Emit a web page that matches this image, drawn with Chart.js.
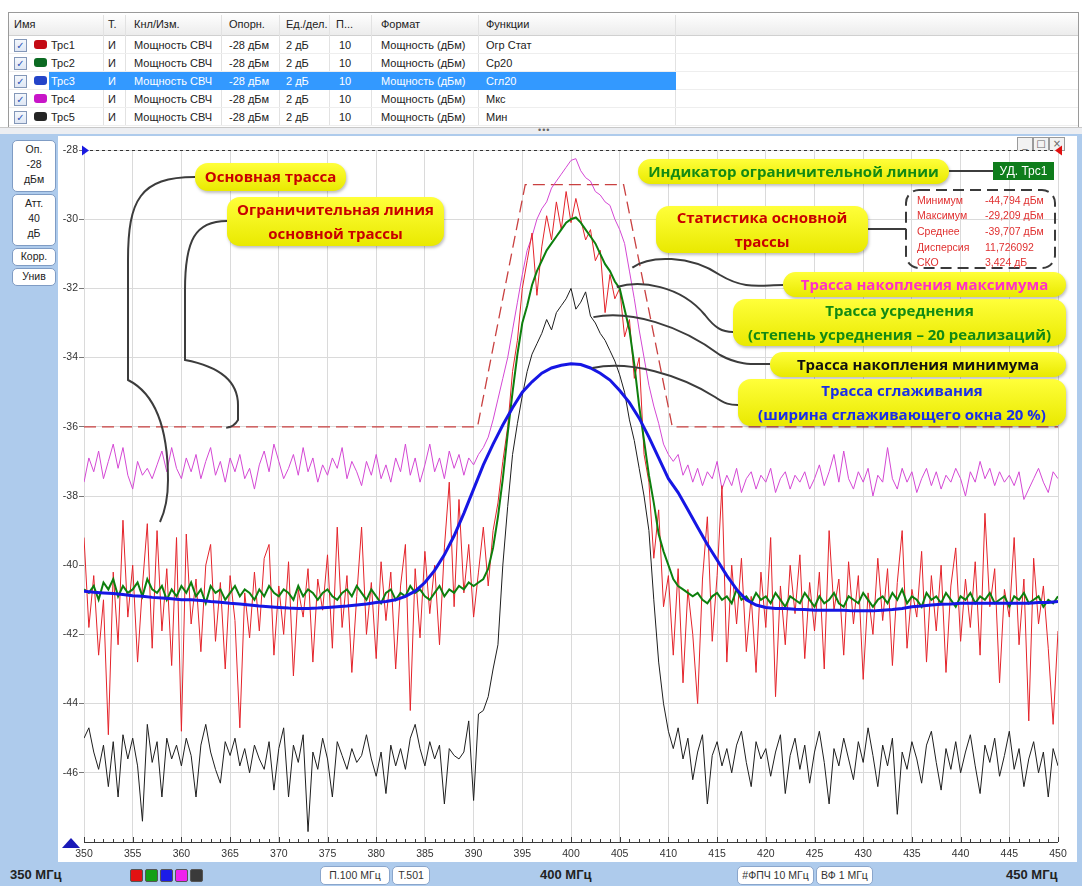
<!DOCTYPE html>
<html>
<head>
<meta charset="utf-8">
<script src="https://cdn.jsdelivr.net/npm/chart.js@4.4.1/dist/chart.umd.min.js"></script>
<style>
  body { margin: 0; width: 1082px; height: 886px; position: relative; overflow: hidden; background: #fff;
         font-family: "Liberation Sans", Arial, sans-serif; font-size: 11px; color: #222; }
  .abs { position: absolute; }
  #table { left: 8px; top: 12px; width: 1069px; height: 114px; border: 1px solid #9a9a9a; background: #fff; }
  .hdr { left: 0; top: 0; width: 1069px; height: 22px; background: linear-gradient(#ffffff, #ececec); border-bottom: 1px solid #d0d0d0; }
  .cell { position: absolute; white-space: nowrap; line-height: 18px; }
  .sep { position: absolute; width: 1px; background: #e2e2e2; }
  .chk { position: absolute; width: 11px; height: 11px; border: 1px solid #8397b8; background: linear-gradient(#f4f7fc, #dfe7f4);
         font: bold 10px "DejaVu Sans"; color: #2a55b8; text-align: center; line-height: 11px; }
  .sw { position: absolute; width: 13px; height: 9px; border-radius: 3px; }
  #splitter { left: 0; top: 127px; width: 1082px; height: 7px; background: #eceef2; border-top: 1px solid #c8c8c8; }
  #panel { left: 0; top: 134px; width: 1082px; height: 752px; background: #aecbec; }
  #plotbg { left: 58px; top: 136px; width: 1019px; height: 726px; background: #fff; }
  .btn { position: absolute; background: #fff; border: 1px solid #7f9cc4; border-radius: 5px; text-align: center;
         font-size: 10.5px; line-height: 15px; color: #222; }
  .foot { position: absolute; top: 866px; font-size: 13px; font-weight: bold; color: #222; line-height: 18px; }
  .fbtn { position: absolute; top: 866px; height: 17px; background: #fff; border: 1px solid #8aa6cc; border-radius: 5px;
          font-size: 10.5px; line-height: 17px; text-align: center; color: #333; }
  .sq { position: absolute; top: 869px; width: 11px; height: 11px; border-radius: 2px; border: 1px solid #555; }
  .wbtn { position: absolute; top: 137px; width: 14px; height: 12px; border: 1px solid #9a9a9a; background: #f2f2f2;
          font: 10px "DejaVu Sans"; color: #666; text-align: center; line-height: 12px; }
  canvas { position: absolute; left: 0; top: 0; z-index: 5; }
</style>
</head>
<body>
<div id="table" class="abs"><div class="hdr abs"></div></div>
<div id="splitter" class="abs"><div class="abs" style="left:538px;top:-3px;font-size:9px;color:#666;letter-spacing:1px">•••</div></div>
<div id="panel" class="abs"></div>
<div id="plotbg" class="abs"></div>

<div class="btn" style="left:12px;top:140px;width:42px;height:49px;padding-top:1px">Оп.<br>-28<br>дБм</div>
<div class="btn" style="left:12px;top:194px;width:42px;height:49px;padding-top:1px">Атт.<br>40<br>дБ</div>
<div class="btn" style="left:12px;top:248px;width:42px;height:16px">Корр.</div>
<div class="btn" style="left:12px;top:268px;width:42px;height:16px">Унив</div>

<div class="wbtn" style="left:1017px">_</div>
<div class="wbtn" style="left:1033px">□</div>
<div class="wbtn" style="left:1049px">×</div>

<div class="foot" style="left:10px">350 МГц</div>
<div class="sq" style="left:130px;background:#e31212"></div>
<div class="sq" style="left:145px;background:#14a014"></div>
<div class="sq" style="left:160px;background:#1c1ce8"></div>
<div class="sq" style="left:175px;background:#ee22ee"></div>
<div class="sq" style="left:190px;background:#3a3a3a"></div>
<div class="fbtn" style="left:320px;width:68px">П.100 МГц</div>
<div class="fbtn" style="left:392px;width:36px">Т.501</div>
<div class="foot" style="left:540px">400 МГц</div>
<div class="fbtn" style="left:737px;width:75px">#ФПЧ 10 МГц</div>
<div class="fbtn" style="left:816px;width:55px">ВФ 1 МГц</div>
<div class="foot" style="left:1006px">450 МГц</div>

<canvas id="chart" width="1082" height="886"></canvas>

<script>
// ---- данные трасс (дБм), шаг сетки частот 0,5 МГц от 350 МГц ----
const FREQ_START = 350;
const FREQ_STEP = 0.5;

// Трс1 – основная трасса (Огр Стат)
const TRC1_MAIN = [
  -39.2,-41.8,-40.3,-42.6,-41.0,-44.9,-40.2,-42.3,-38.7,-41.5,
  -40.0,-42.8,-40.6,-38.8,-42.4,-39.0,-41.9,-40.1,-42.9,-39.2,
  -44.8,-39.1,-41.7,-40.4,-42.5,-40.0,-39.4,-42.2,-40.5,-43.0,
  -40.3,-41.6,-44.7,-40.8,-42.1,-40.2,-41.9,-39.8,-39.4,-42.6,
  -40.6,-42.0,-39.9,-43.2,-40.7,-41.5,-40.1,-42.8,-40.4,-41.3,
  -39.7,-42.4,-38.9,-41.8,-40.3,-43.1,-40.9,-38.9,-42.0,-40.5,
  -42.7,-39.9,-41.6,-40.2,-43.0,-40.6,-39.4,-44.2,-40.1,-42.1,
  -39.6,-41.4,-40.0,-42.3,-39.5,-37.6,-41.2,-38.1,-40.8,-39.4,
  -41.5,-40.2,-38.9,-40.6,-39.0,-38.2,-37.0,-36.0,-34.4,-33.5,
  -32.0,-31.2,-30.4,-32.2,-30.8,-29.9,-30.6,-29.5,-30.3,-29.2,
  -30.1,-29.4,-30.0,-30.6,-30.3,-31.2,-30.9,-32.7,-31.6,-32.3,
  -32.0,-33.4,-32.9,-34.6,-34.0,-36.8,-37.6,-39.8,-38.4,-41.2,
  -40.3,-42.6,-40.1,-43.4,-40.7,-42.0,-44.0,-40.4,-38.6,-42.2,
  -40.3,-37.7,-42.8,-40.0,-41.7,-39.8,-42.5,-40.9,-43.1,-40.2,
  -41.8,-39.2,-43.8,-40.6,-42.3,-40.0,-41.4,-39.7,-42.7,-40.5,
  -41.9,-40.2,-43.0,-39.0,-41.3,-40.4,-42.6,-39.9,-41.7,-40.3,
  -43.3,-40.8,-42.0,-39.8,-41.6,-40.1,-42.9,-40.5,-39.0,-42.4,
  -40.7,-41.5,-39.6,-42.8,-40.3,-41.9,-40.0,-43.1,-40.6,-39.5,
  -42.2,-40.4,-41.8,-39.9,-42.6,-38.5,-41.2,-40.1,-43.4,-40.7,
  -41.5,-39.2,-42.3,-40.4,-44.5,-39.8,-41.7,-40.6,-42.4,-44.6,
  -41.9
];

// Трс2 – усреднение по 20 реализациям (Ср20)
const TRC2_AVG = [
  -40.7,-40.8,-40.6,-41.0,-40.5,-40.7,-40.4,-40.9,-40.6,-40.8,
  -40.7,-40.5,-40.9,-40.4,-40.7,-40.8,-40.6,-41.0,-40.7,-40.9,
  -40.6,-40.8,-40.5,-40.9,-40.7,-41.1,-40.6,-40.8,-40.7,-41.0,
  -40.8,-40.6,-40.9,-40.7,-40.8,-41.0,-40.7,-40.9,-40.6,-40.8,
  -40.9,-40.7,-40.8,-41.0,-40.6,-40.9,-40.7,-40.8,-41.0,-40.8,
  -40.7,-40.9,-41.0,-40.8,-40.7,-40.9,-40.6,-40.8,-41.0,-40.7,
  -40.9,-41.1,-40.8,-40.7,-41.0,-40.8,-40.9,-40.6,-40.8,-40.7,
  -40.9,-41.0,-40.8,-40.6,-40.9,-40.7,-40.8,-40.6,-40.7,-40.5,
  -40.6,-40.5,-40.4,-40.1,-39.5,-38.6,-37.5,-36.2,-35.0,-33.9,
  -33.0,-32.5,-31.9,-31.5,-31.2,-30.9,-30.7,-30.5,-30.3,-30.1,
  -30.0,-29.95,-30.1,-30.3,-30.5,-30.7,-31.0,-31.3,-31.5,-31.8,
  -32.0,-32.6,-33.2,-34.2,-35.4,-36.4,-37.4,-38.2,-39.1,-39.6,
  -40.0,-40.4,-40.6,-40.7,-40.8,-40.9,-40.8,-41.0,-41.1,-40.9,
  -40.8,-41.0,-40.9,-41.1,-40.7,-41.0,-40.9,-41.1,-40.8,-41.0,
  -40.9,-41.1,-40.8,-41.0,-41.2,-40.9,-41.0,-41.1,-40.8,-41.0,
  -41.2,-40.9,-41.1,-41.0,-40.8,-41.1,-41.2,-40.9,-41.0,-41.1,
  -40.8,-41.0,-41.2,-41.0,-40.9,-41.1,-40.8,-41.0,-40.7,-41.1,
  -40.9,-41.0,-41.2,-40.8,-41.0,-40.9,-41.1,-40.8,-41.0,-41.2,
  -40.9,-41.0,-40.8,-41.1,-40.9,-41.0,-40.8,-41.1,-41.0,-40.9,
  -41.2,-40.9,-41.0,-40.8,-41.1,-41.0,-40.9,-41.2,-41.0,-41.1,
  -40.9
];

// Трс3 – сглаживание, окно 20 % (шаг 1 МГц)
const TRC3_STEP = 1;
const TRC3_SMOOTH = [
  -40.75,-40.78,-40.8,-40.82,-40.85,-40.88,-40.9,-40.93,-40.95,-40.97,
  -41.0,-41.0,-41.02,-41.05,-41.07,-41.1,-41.12,-41.15,-41.18,-41.2,
  -41.22,-41.24,-41.25,-41.25,-41.24,-41.22,-41.2,-41.18,-41.15,-41.12,
  -41.08,-41.05,-41.0,-40.9,-40.75,-40.5,-40.15,-39.7,-39.15,-38.5,
  -37.8,-37.1,-36.5,-35.95,-35.45,-35.0,-34.7,-34.45,-34.3,-34.22,
  -34.18,-34.2,-34.3,-34.45,-34.65,-34.95,-35.3,-35.75,-36.3,-36.9,
  -37.5,-37.9,-38.4,-38.9,-39.4,-39.85,-40.3,-40.7,-41.0,-41.15,
  -41.22,-41.25,-41.25,-41.27,-41.28,-41.3,-41.3,-41.3,-41.3,-41.32,
  -41.32,-41.32,-41.3,-41.28,-41.25,-41.2,-41.18,-41.15,-41.13,-41.12,
  -41.1,-41.1,-41.1,-41.1,-41.1,-41.1,-41.1,-41.1,-41.08,-41.08,
  -41.05
];

// Трс4 – накопление максимума (Мкс)
const TRC4_MAX = [
  -37.6,-36.9,-37.3,-36.7,-37.5,-37.0,-36.5,-37.2,-36.6,-37.4,
  -37.8,-37.0,-37.4,-37.2,-37.5,-37.1,-36.7,-37.3,-36.6,-37.2,
  -37.5,-36.9,-37.3,-36.8,-37.5,-37.0,-36.6,-37.4,-37.0,-37.6,
  -36.9,-37.3,-36.8,-37.5,-37.2,-37.8,-37.1,-36.7,-37.3,-36.5,
  -37.0,-37.5,-37.2,-36.8,-37.4,-36.6,-37.3,-36.9,-37.6,-37.1,
  -37.4,-36.9,-37.2,-36.6,-37.5,-37.0,-37.3,-37.7,-37.0,-37.4,
  -36.8,-37.5,-37.1,-37.6,-36.9,-37.3,-36.5,-37.4,-36.9,-37.6,
  -37.1,-36.5,-37.3,-36.9,-37.5,-36.7,-37.2,-36.8,-37.4,-36.9,
  -37.1,-36.8,-36.6,-36.3,-35.8,-35.2,-34.6,-34.0,-33.2,-32.4,
  -31.6,-30.9,-30.5,-30.0,-29.7,-29.5,-29.1,-28.9,-28.7,-28.5,
  -28.3,-28.25,-28.6,-28.8,-28.9,-29.2,-29.3,-29.5,-29.6,-30.0,
  -30.3,-30.7,-31.5,-32.3,-33.2,-34.0,-34.8,-35.4,-35.9,-36.5,
  -36.8,-37.0,-36.8,-37.4,-37.1,-37.6,-37.2,-37.7,-37.3,-37.5,
  -37.0,-37.8,-37.4,-37.7,-37.2,-37.9,-37.5,-37.3,-37.8,-37.4,
  -37.6,-37.2,-37.9,-37.5,-37.3,-37.8,-37.4,-37.6,-37.3,-37.8,
  -37.5,-37.1,-37.7,-37.3,-36.8,-37.6,-36.7,-37.5,-37.8,-37.3,
  -37.6,-37.2,-38.0,-37.4,-37.6,-36.6,-37.5,-37.8,-37.2,-37.6,
  -37.3,-37.9,-37.5,-37.2,-37.7,-37.3,-37.8,-37.4,-37.6,-37.2,
  -37.5,-38.0,-37.3,-37.6,-37.0,-37.5,-37.2,-37.7,-37.3,-37.6,
  -37.4,-37.7,-37.3,-38.1,-37.8,-37.5,-37.2,-37.6,-37.9,-37.3,
  -37.5
];

// Трс5 – накопление минимума (Мин)
const TRC5_MIN = [
  -45.0,-44.7,-45.4,-45.9,-45.2,-46.4,-45.1,-46.7,-44.9,-45.6,
  -45.0,-45.8,-47.4,-44.6,-45.7,-45.1,-46.7,-45.0,-45.6,-45.2,
  -45.8,-45.0,-45.5,-46.7,-45.2,-44.6,-45.4,-45.9,-46.3,-45.1,
  -45.5,-45.0,-45.8,-45.3,-46.0,-45.2,-45.6,-45.9,-45.1,-46.5,
  -45.3,-44.7,-46.7,-45.2,-45.7,-44.9,-47.7,-45.4,-45.9,-45.0,
  -45.6,-46.7,-45.1,-45.5,-45.9,-45.3,-45.7,-45.5,-44.9,-45.6,
  -46.1,-45.4,-46.6,-45.2,-45.8,-45.3,-45.9,-45.0,-44.6,-45.3,
  -45.8,-45.1,-45.6,-45.2,-46.9,-45.3,-45.5,-45.6,-45.4,-44.5,
  -46.8,-44.3,-44.2,-43.8,-43.0,-42.3,-40.0,-38.3,-36.8,-35.9,
  -35.1,-34.4,-33.9,-33.6,-33.3,-32.9,-33.2,-32.7,-32.5,-32.3,
  -32.0,-32.6,-32.4,-32.1,-32.8,-33.0,-33.3,-33.5,-33.8,-34.1,
  -34.5,-35.0,-35.8,-36.4,-37.2,-38.0,-39.0,-41.0,-42.8,-44.0,
  -44.8,-45.3,-44.7,-45.6,-45.0,-46.2,-45.4,-44.9,-46.9,-45.5,
  -45.1,-45.8,-45.3,-46.0,-45.2,-44.8,-45.7,-46.4,-45.1,-45.6,
  -45.3,-46.1,-45.4,-44.9,-46.6,-45.5,-45.0,-45.9,-45.2,-46.3,
  -45.4,-44.8,-45.7,-46.9,-45.3,-45.8,-45.0,-45.6,-46.2,-45.1,
  -45.7,-44.7,-45.5,-46.4,-45.2,-45.8,-45.0,-47.2,-45.4,-45.9,
  -45.1,-45.6,-46.3,-45.2,-44.8,-45.7,-46.5,-45.3,-45.9,-45.1,
  -46.0,-45.4,-44.9,-45.8,-46.6,-45.2,-45.7,-45.0,-46.1,-45.5,
  -44.8,-45.9,-45.3,-46.4,-45.6,-45.1,-46.0,-45.4,-46.7,-45.3,
  -45.8
];

// ограничительная линия основной трассы
const LIMIT_FREQ = [350, 390.4, 395.3, 405.4, 410.4, 450];
const LIMIT_LEVEL = [-36, -36, -29, -29, -36, -36];

// опорный уровень и шкалы
const REF_LEVEL = -28;
const Y_MIN = -48, Y_STEP = 2;
const X_MIN = 350, X_MAX = 450, X_STEP = 5;

// статистика основной трассы
const STAT_NAMES = ['Минимум', 'Максимум', 'Среднее', 'Дисперсия', 'СКО'];
const STAT_VALUES = ['-44,794 дБм', '-29,209 дБм', '-39,707 дБм', '11,726092', '3,424 дБ'];

// таблица трасс
const TABLE_HEAD = ['Имя', 'Т.', 'Кнл/Изм.', 'Опорн.', 'Ед./дел.', 'П...', 'Формат', 'Функции'];
const TRACE_NAMES = ['Трс1', 'Трс2', 'Трс3', 'Трс4', 'Трс5'];
const TRACE_FUNCS = ['Огр Стат', 'Ср20', 'Сгл20', 'Мкс', 'Мин'];
const TRACE_SWATCH = ['#c40a14', '#0b6a22', '#2444c8', '#c815c8', '#252525'];

// --- таблица ---
const tbl = document.getElementById('table');
const colX = [5, 99, 125, 220, 277, 327, 372, 477];
const sepX = [94, 116, 212, 270, 320, 362, 469, 666];
TABLE_HEAD.forEach((h, i) => {
  const d = document.createElement('div');
  d.className = 'cell'; d.style.left = colX[i] + 'px'; d.style.top = '2px'; d.textContent = h;
  tbl.appendChild(d);
});
sepX.forEach(x => {
  const s = document.createElement('div');
  s.className = 'sep'; s.style.left = x + 'px'; s.style.top = '2px'; s.style.height = '111px';
  tbl.appendChild(s);
});
TRACE_NAMES.forEach((name, r) => {
  const top = 23 + r * 18;
  const line = document.createElement('div');
  line.className = 'abs'; line.style.cssText = `left:0;top:${top + 17}px;width:1069px;height:1px;background:#eeeeee`;
  tbl.appendChild(line);
  if (r === 2) {
    const hl = document.createElement('div');
    hl.className = 'abs'; hl.style.cssText = `left:40px;top:${top}px;width:627px;height:18px;background:#3399ff`;
    tbl.appendChild(hl);
  }
  const chk = document.createElement('div');
  chk.className = 'chk'; chk.style.left = '5px'; chk.style.top = (top + 3) + 'px'; chk.textContent = '✓';
  tbl.appendChild(chk);
  const sw = document.createElement('div');
  sw.className = 'sw'; sw.style.left = '25px'; sw.style.top = (top + 4) + 'px'; sw.style.background = TRACE_SWATCH[r];
  tbl.appendChild(sw);
  const vals = [name, 'И', 'Мощность СВЧ', '-28 дБм', '2 дБ', '10', 'Мощность (дБм)', TRACE_FUNCS[r]];
  vals.forEach((v, i) => {
    const d = document.createElement('div');
    d.className = 'cell';
    d.style.left = (i === 0 ? 42 : colX[i] + (i === 5 ? 3 : 0)) + 'px';
    d.style.top = top + 'px';
    d.style.color = r === 2 ? '#fff' : '#222';
    d.textContent = v;
    tbl.appendChild(d);
  });
});

// --- график ---
function toPoints(values, start, step) {
  return values.map((v, i) => ({ x: start + i * step, y: v }));
}

const CALLOUTS = [
  { box: [195, 163, 346, 191], color: '#c80000', lines: ['Основная трасса'] },
  { box: [227, 197, 444, 246], color: '#c80000', lines: ['Ограничительная линия', 'основной трассы'] },
  { box: [638, 159, 949, 184], color: '#138a13', lines: ['Индикатор ограничительной линии'] },
  { box: [656, 206, 868, 253], color: '#c80000', lines: ['Статистика основной', 'трассы'] },
  { box: [783, 272, 1066, 297], color: '#ff2fc8', lines: ['Трасса накопления максимума'] },
  { box: [733, 299, 1066, 346], color: '#138a13', lines: ['Трасса усреднения', '(степень усреднения – 20 реализаций)'] },
  { box: [770, 352, 1066, 377], color: '#111111', lines: ['Трасса накопления минимума'] },
  { box: [738, 379, 1066, 426], color: '#1a2ee8', lines: ['Трасса сглаживания', '(ширина сглаживающего окна 20 %)'] }
];

// выноски: начало на трассе (МГц, дБм), далее кривые в пикселях
const LEADERS = [
  { at: [357.8, -38.75], path: [[168, 505, 168, 480], [168, 400, 128, 380], [128, 260], [128, 200, 140, 177, 195, 177]] },
  { at: [364.6, -36.03], path: [[234, 427, 238, 420], [238, 405], [238, 370, 185, 360], [185, 290], [185, 240, 195, 221, 227, 221]] },
  { at: [406.3, -31.4], path: [[650, 255, 690, 255, 720, 275], [745, 290, 760, 285, 783, 285]] },
  { at: [404.7, -31.96], path: [[640, 280, 680, 285, 705, 315], [715, 328, 722, 332, 733, 332]] },
  { at: [402.3, -32.83], path: [[630, 310, 680, 325, 720, 355], [740, 366, 755, 364, 770, 364]] },
  { at: [402.2, -34.3], path: [[630, 360, 680, 375, 715, 397], [725, 404, 730, 405, 738, 405]] }
];

function roundRectPath(ctx, x1, y1, x2, y2, r) {
  ctx.beginPath();
  ctx.moveTo(x1 + r, y1);
  ctx.lineTo(x2 - r, y1); ctx.arcTo(x2, y1, x2, y1 + r, r);
  ctx.lineTo(x2, y2 - r); ctx.arcTo(x2, y2, x2 - r, y2, r);
  ctx.lineTo(x1 + r, y2); ctx.arcTo(x1, y2, x1, y2 - r, r);
  ctx.lineTo(x1, y1 + r); ctx.arcTo(x1, y1, x1 + r, y1, r);
  ctx.closePath();
}

const overlay = {
  id: 'overlay',
  beforeDatasetsDraw(chart) {
    const { ctx, chartArea: a, scales: { x } } = chart;
    ctx.save();
    // ось X и мелкие деления
    ctx.strokeStyle = '#3a3a3a'; ctx.lineWidth = 1;
    ctx.beginPath(); ctx.moveTo(a.left, a.bottom + 0.5); ctx.lineTo(a.right, a.bottom + 0.5); ctx.stroke();
    for (let f = X_MIN; f <= X_MAX; f++) {
      const px = Math.round(x.getPixelForValue(f)) + 0.5;
      ctx.beginPath(); ctx.moveTo(px, a.bottom); ctx.lineTo(px, a.bottom - (f % 5 === 0 ? 5 : 3)); ctx.stroke();
    }
    ctx.restore();
  },
  afterDraw(chart) {
    const { ctx, chartArea: a, scales: { x, y } } = chart;
    ctx.save();
    // опорный уровень
    const yr = Math.round(y.getPixelForValue(REF_LEVEL)) + 0.5;
    ctx.strokeStyle = '#333'; ctx.lineWidth = 1; ctx.setLineDash([3, 3]);
    ctx.beginPath(); ctx.moveTo(a.left, yr); ctx.lineTo(a.right, yr); ctx.stroke();
    ctx.setLineDash([]);
    ctx.fillStyle = '#1a1ae0';
    ctx.beginPath(); ctx.moveTo(a.left - 2, yr - 5); ctx.lineTo(a.left + 5, yr); ctx.lineTo(a.left - 2, yr + 5); ctx.fill();
    ctx.fillStyle = '#e01010';
    ctx.beginPath(); ctx.moveTo(a.right + 4, yr - 5); ctx.lineTo(a.right - 3, yr); ctx.lineTo(a.right + 4, yr + 5); ctx.fill();
    ctx.fillStyle = '#1a1ab8';
    ctx.beginPath(); ctx.moveTo(a.left - 22, a.bottom + 6); ctx.lineTo(a.left - 13, a.bottom - 4); ctx.lineTo(a.left - 4, a.bottom + 6); ctx.fill();

    // выноски
    ctx.strokeStyle = '#3c3c3c'; ctx.lineWidth = 2;
    LEADERS.forEach(l => {
      ctx.beginPath();
      ctx.moveTo(x.getPixelForValue(l.at[0]), y.getPixelForValue(l.at[1]));
      l.path.forEach(p => {
        if (p.length === 2) ctx.lineTo(p[0], p[1]);
        else if (p.length === 4) ctx.quadraticCurveTo(p[0], p[1], p[2], p[3]);
        else ctx.bezierCurveTo(p[0], p[1], p[2], p[3], p[4], p[5]);
      });
      ctx.stroke();
    });
    // индикатор и статистика: соединительные линии
    ctx.beginPath(); ctx.moveTo(949, 171); ctx.lineTo(993, 171); ctx.stroke();
    ctx.beginPath(); ctx.moveTo(868, 229); ctx.lineTo(906, 229); ctx.stroke();

    // плашки
    CALLOUTS.forEach(c => {
      const [x1, y1, x2, y2] = c.box;
      const r = Math.min(13, (y2 - y1) / 2);
      ctx.save();
      ctx.shadowColor = 'rgba(0,0,0,0.25)'; ctx.shadowBlur = 3; ctx.shadowOffsetX = 1; ctx.shadowOffsetY = 2;
      const g = ctx.createLinearGradient(0, y1, 0, y2);
      g.addColorStop(0, '#ffff3a'); g.addColorStop(1, '#e9e900');
      ctx.fillStyle = g;
      roundRectPath(ctx, x1, y1, x2, y2, r); ctx.fill();
      ctx.restore();
      ctx.fillStyle = c.color;
      ctx.font = 'bold 15px "Open Sans"';
      ctx.textAlign = 'center'; ctx.textBaseline = 'middle';
      const cx = (x1 + x2) / 2, h = (y2 - y1) / c.lines.length;
      c.lines.forEach((t, i) => ctx.fillText(t, cx, y1 + h * (i + 0.5) + 1, x2 - x1 - 12));
    });

    // УД. Трс1
    ctx.fillStyle = '#0f7d1c'; ctx.fillRect(993, 162, 61, 18);
    ctx.fillStyle = '#fff'; ctx.font = '12px "Liberation Sans"'; ctx.textAlign = 'center';
    ctx.fillText('УД. Трс1', 1023.5, 171.5);

    // таблица статистики
    ctx.strokeStyle = '#3a3a3a'; ctx.lineWidth = 2; ctx.setLineDash([11, 6]);
    roundRectPath(ctx, 906, 190, 1055, 268, 13); ctx.stroke();
    ctx.setLineDash([]);
    ctx.fillStyle = '#e03030'; ctx.font = '10.5px "Liberation Sans"'; ctx.textAlign = 'left';
    STAT_NAMES.forEach((n, i) => {
      const ty = 201 + i * 15.6;
      ctx.fillText(n, 917, ty);
      ctx.fillText(STAT_VALUES[i], 985, ty);
    });
    ctx.restore();
  }
};

new Chart(document.getElementById('chart'), {
  type: 'line',
  data: {
    datasets: [
      { label: 'Трс3', data: toPoints(TRC3_SMOOTH, FREQ_START, TRC3_STEP), borderColor: '#1616e4', borderWidth: 3 },
      { label: 'Трс2', data: toPoints(TRC2_AVG, FREQ_START, FREQ_STEP), borderColor: '#0d7f0d', borderWidth: 2 },
      { label: 'Трс1', data: toPoints(TRC1_MAIN, FREQ_START, FREQ_STEP), borderColor: '#e4232a', borderWidth: 1 },
      { label: 'Трс5', data: toPoints(TRC5_MIN, FREQ_START, FREQ_STEP), borderColor: '#1e1e1e', borderWidth: 1 },
      { label: 'Трс4', data: toPoints(TRC4_MAX, FREQ_START, FREQ_STEP), borderColor: '#d448d4', borderWidth: 1 },
      { label: 'Огр', data: LIMIT_FREQ.map((f, i) => ({ x: f, y: LIMIT_LEVEL[i] })), borderColor: '#c94040',
        borderWidth: 1.3, borderDash: [12, 6] }
    ]
  },
  options: {
    responsive: false,
    animation: false,
    devicePixelRatio: 1,
    elements: { point: { radius: 0 }, line: { tension: 0 } },
    layout: { padding: { left: 54, top: 150, right: 24, bottom: 24 } },
    plugins: { legend: { display: false }, tooltip: { enabled: false } },
    scales: {
      x: {
        type: 'linear', min: X_MIN, max: X_MAX,
        afterFit: s => { s.height = 20; },
        border: { display: false },
        grid: { color: '#dadada', drawTicks: false },
        ticks: { stepSize: X_STEP, autoSkip: false, maxRotation: 0, padding: 6, color: '#333',
                 font: { family: 'Liberation Sans', size: 10.5 } }
      },
      y: {
        type: 'linear', min: Y_MIN, max: REF_LEVEL,
        afterFit: s => { s.width = 30; },
        afterBuildTicks: s => { s.ticks = s.ticks.filter(t => t.value > Y_MIN); },
        border: { display: false },
        grid: { color: '#dadada', tickLength: 5, tickColor: '#777' },
        ticks: { stepSize: Y_STEP, padding: 1, color: '#333', font: { family: 'Liberation Sans', size: 10.5 } }
      }
    }
  },
  plugins: [overlay]
});
</script>
</body>
</html>
